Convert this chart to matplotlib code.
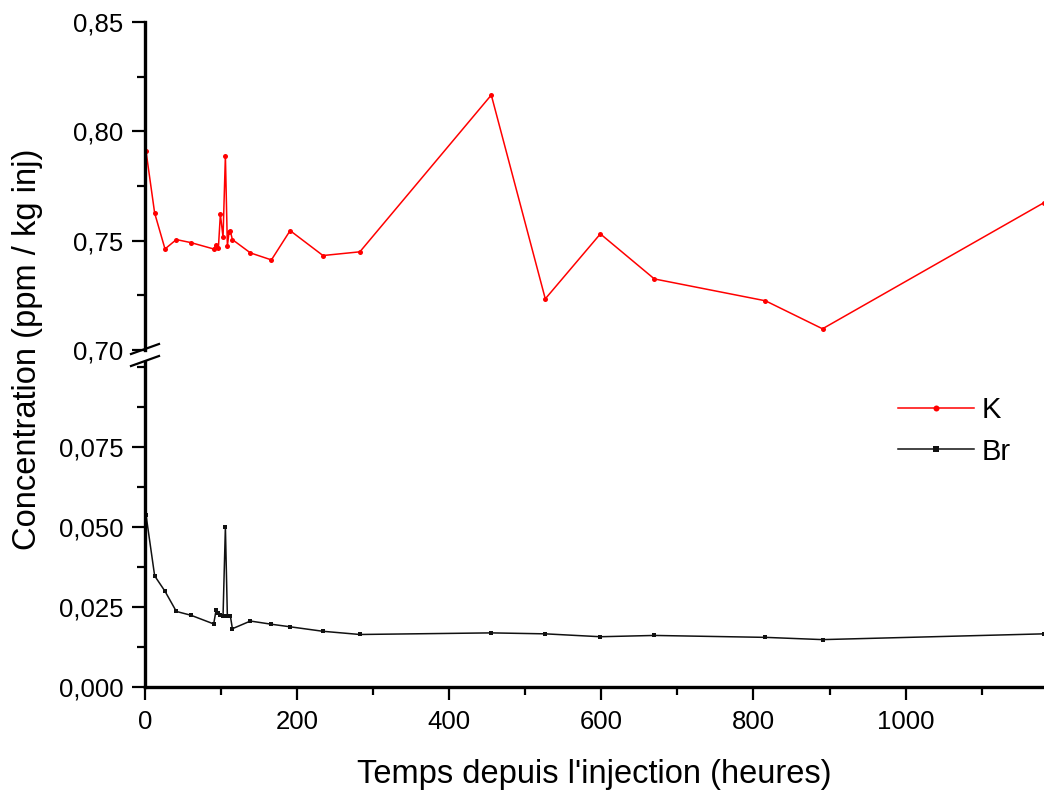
import numpy as np
import matplotlib.pyplot as plt
from matplotlib.ticker import MultipleLocator, FuncFormatter
from matplotlib.lines import Line2D

# ==========================================================================================
# Données
temps = [1.3, 12.7, 26.3, 41.2, 60.5, 90.3, 93.4, 96.5, 99.1, 102.6, 105.7, 108.3,
         110.5, 112.3, 114.9, 138.6, 166.2, 190.8, 234.0, 282.5, 455.3, 526.3,
         598.7, 669.7, 815.8, 890.8, 1181.6]

conc_K = [0.7910, 0.7626, 0.7462, 0.7505, 0.7491, 0.7462, 0.7481, 0.7467, 0.7621,
          0.7516, 0.7888, 0.7475, 0.7540, 0.7542, 0.7505, 0.7444, 0.7412, 0.7546,
          0.7432, 0.7449, 0.8166, 0.7234, 0.7531, 0.7325, 0.7225, 0.7097, 0.7673]

conc_Br = [0.0538, 0.0347, 0.0299, 0.0236, 0.0224, 0.0197, 0.0239, 0.0232, 0.0225,
           0.0221, 0.0500, 0.0221, 0.0221, 0.0221, 0.0182, 0.0206, 0.0196, 0.0188,
           0.0174, 0.0164, 0.0169, 0.0166, 0.0157, 0.0161, 0.0155, 0.0148, 0.0166]

# ==========================================================================================
plt.rcParams['font.family'] = ['Liberation Sans', 'DejaVu Sans']

W, H = 1044, 792
fig = plt.figure(figsize=(W / 100, H / 100), dpi=100)

x0, x1 = 145, 1044
ax_hi = fig.add_axes([x0 / W, 1 - 350 / H, (x1 - x0) / W, (350 - 22) / H])
ax_lo = fig.add_axes([x0 / W, 1 - 687 / H, (x1 - x0) / W, (687 - 362) / H])

virgule = lambda fmt: FuncFormatter(lambda v, p: (fmt % v).replace('.', ','))

l_K, = ax_hi.plot(temps, conc_K, '-o', color='#ff0000', lw=1.1, ms=3.6, mew=0)
l_Br, = ax_lo.plot(temps, conc_Br, '-s', color='#111111', lw=1.1, ms=3.3, mew=0)

for ax in (ax_hi, ax_lo):
    ax.set_xlim(0, 1182)
    ax.spines['right'].set_visible(False)
    ax.spines['top'].set_visible(False)
    ax.spines['left'].set_linewidth(2.4)
    ax.spines['bottom'].set_linewidth(2.4)
    ax.tick_params(which='major', direction='out', length=9.5, width=1.6, labelsize=18.5, pad=6)
    ax.tick_params(which='minor', direction='out', length=5.5, width=1.6)
    ax.patch.set_alpha(0)

ax_hi.set_ylim(0.70, 0.85)
ax_hi.yaxis.set_major_locator(MultipleLocator(0.05))
ax_hi.yaxis.set_minor_locator(MultipleLocator(0.025))
ax_hi.yaxis.set_major_formatter(virgule('%.2f'))
ax_hi.spines['bottom'].set_visible(False)
ax_hi.tick_params(axis='x', which='both', bottom=False, labelbottom=False)

ax_lo.set_ylim(0, 0.1015)
ax_lo.yaxis.set_major_locator(MultipleLocator(0.025))
ax_lo.yaxis.set_minor_locator(MultipleLocator(0.0125))
ax_lo.yaxis.set_major_formatter(virgule('%.3f'))
ax_lo.set_yticks([0, 0.025, 0.05, 0.075])
ax_lo.xaxis.set_major_locator(MultipleLocator(200))
ax_lo.xaxis.set_minor_locator(MultipleLocator(100))
ax_lo.tick_params(axis='x', which='major', pad=7)
ax_lo.set_xlabel("Temps depuis l'injection (heures)", fontsize=23.5, labelpad=18)

fig.text(28 / W, 1 - 349 / H, 'Concentration (ppm / kg inj)', rotation=90,
         ha='center', va='center', fontsize=23.5)

# Marques de coupure de l'axe
for yc in (349, 361):
    fig.add_artist(Line2D([131 / W, 159 / W], [1 - (yc + 5) / H, 1 - (yc - 5) / H],
                          color='black', lw=1.6))

ax_lo.legend([l_K, l_Br], ['K', 'Br'], loc='upper left', bbox_to_anchor=(0.8376, 0.894),
             frameon=False, fontsize=21, handlelength=2.6, labelspacing=0.45,
             handletextpad=0.25, borderpad=0, borderaxespad=0, markerscale=1.2)

fig.savefig('out.png', dpi=100)
